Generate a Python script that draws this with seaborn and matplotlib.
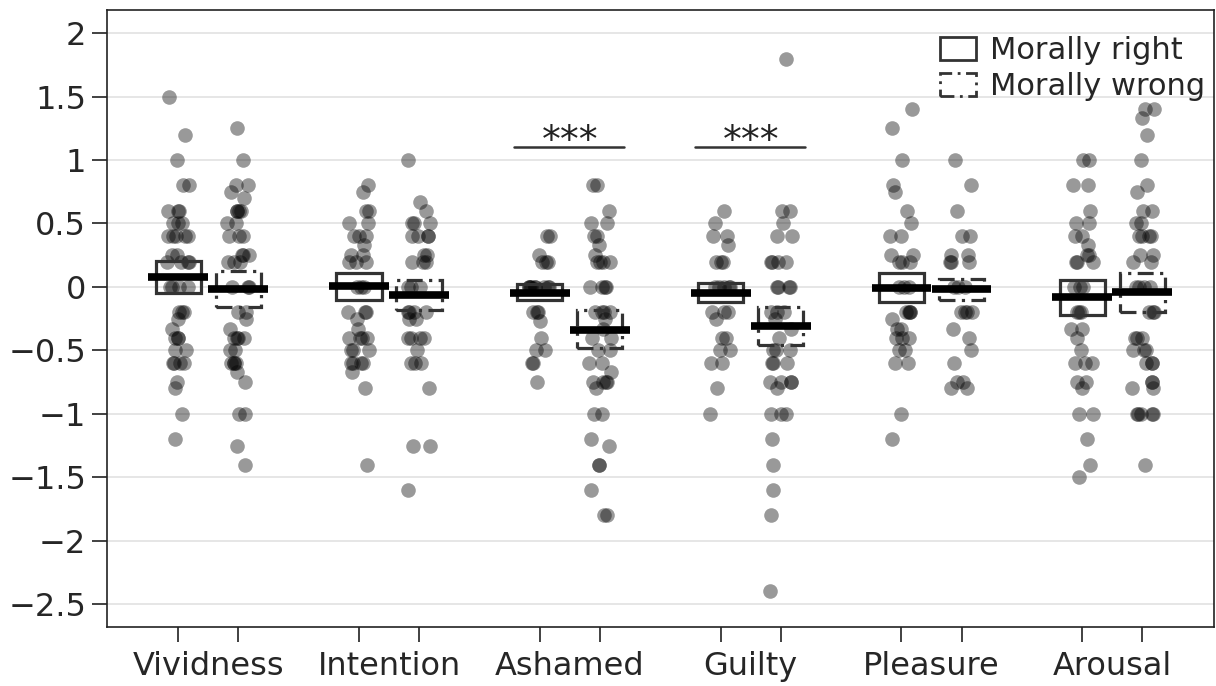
import numpy as np
import pandas as pd
import seaborn as sns
import matplotlib
matplotlib.use("Agg")
import matplotlib.pyplot as plt
from matplotlib.patches import Patch
from matplotlib.ticker import FuncFormatter

sns.set_style("white")
plt.rcParams["font.family"] = ["DejaVu Sans"]

categories = ["Vividness", "Intention", "Ashamed", "Guilty", "Pleasure", "Arousal"]
conditions = ["Morally right", "Morally wrong"]

# individual participant scores, per category and condition
scores = {
    ("Vividness", "Morally right"): [1.5, 1.2, 1.0, 0.8, 0.8, 0.6, 0.6, 0.6, 0.5, 0.5, 0.5, 0.4, 0.4, 0.4, 0.4, 0.4,
                                     0.25, 0.25, 0.2, 0.2, 0.2, 0.2, 0.0, 0.0, 0.0, 0.0, -0.2, -0.2, -0.2, -0.25,
                                     -0.33, -0.4, -0.4, -0.4, -0.5, -0.5, -0.6, -0.6, -0.6, -0.6, -0.75, -0.8, -1.0, -1.2],
    ("Vividness", "Morally wrong"): [1.25, 1.0, 0.8, 0.8, 0.75, 0.7, 0.6, 0.6, 0.6, 0.6, 0.5, 0.5, 0.4, 0.4, 0.4,
                                     0.25, 0.25, 0.25, 0.2, 0.2, 0.2, 0.0, 0.0, 0.0, -0.2, -0.2, -0.25, -0.33,
                                     -0.4, -0.4, -0.4, -0.4, -0.5, -0.5, -0.6, -0.6, -0.6, -0.6, -0.67, -0.75,
                                     -1.0, -1.0, -1.25, -1.4],
    ("Intention", "Morally right"): [0.8, 0.75, 0.6, 0.6, 0.5, 0.5, 0.4, 0.4, 0.4, 0.33, 0.25, 0.25, 0.2, 0.2, 0.2,
                                     0.0, 0.0, 0.0, -0.2, -0.2, -0.2, -0.25, -0.33, -0.4, -0.4, -0.4, -0.4, -0.5,
                                     -0.5, -0.5, -0.6, -0.6, -0.6, -0.6, -0.67, -0.8, -1.4],
    ("Intention", "Morally wrong"): [1.0, 0.67, 0.6, 0.5, 0.5, 0.5, 0.4, 0.4, 0.4, 0.4, 0.25, 0.25, 0.2, 0.2, 0.2,
                                     0.0, 0.0, 0.0, -0.2, -0.2, -0.2, -0.2, -0.25, -0.25, -0.4, -0.4, -0.4, -0.4,
                                     -0.5, -0.6, -0.6, -0.6, -0.8, -1.25, -1.25, -1.6],
    ("Ashamed", "Morally right"): [0.4, 0.4, 0.25, 0.2, 0.2, 0.2, 0.0, 0.0, 0.0, 0.0, 0.0, 0.0, 0.0, 0.0, 0.0,
                                   -0.2, -0.2, -0.2, -0.27, -0.4, -0.5, -0.5, -0.6, -0.6, -0.75],
    ("Ashamed", "Morally wrong"): [0.8, 0.8, 0.6, 0.5, 0.5, 0.4, 0.4, 0.33, 0.25, 0.2, 0.2, 0.2, 0.2, 0.0, 0.0,
                                   0.0, 0.0, -0.2, -0.2, -0.2, -0.2, -0.25, -0.33, -0.4, -0.4, -0.5, -0.5, -0.6,
                                   -0.6, -0.67, -0.75, -0.75, -0.75, -0.75, -0.8, -1.0, -1.0, -1.2, -1.25, -1.4,
                                   -1.4, -1.6, -1.8, -1.8],
    ("Guilty", "Morally right"): [0.6, 0.5, 0.4, 0.4, 0.33, 0.2, 0.2, 0.2, 0.0, 0.0, 0.0, 0.0, 0.0, -0.2, -0.2,
                                  -0.2, -0.25, -0.4, -0.4, -0.5, -0.5, -0.6, -0.6, -0.8, -1.0],
    ("Guilty", "Morally wrong"): [1.8, 0.6, 0.6, 0.5, 0.4, 0.4, 0.2, 0.2, 0.2, 0.2, 0.0, 0.0, 0.0, 0.0, -0.2,
                                  -0.2, -0.2, -0.25, -0.33, -0.4, -0.5, -0.5, -0.5, -0.6, -0.6, -0.6, -0.75,
                                  -0.75, -0.75, -0.75, -0.8, -1.0, -1.0, -1.0, -1.2, -1.4, -1.6, -1.8, -2.4],
    ("Pleasure", "Morally right"): [1.4, 1.25, 1.0, 0.8, 0.75, 0.6, 0.5, 0.4, 0.4, 0.25, 0.25, 0.2, 0.2, 0.2,
                                    0.0, 0.0, 0.0, -0.2, -0.2, -0.2, -0.2, -0.25, -0.33, -0.33, -0.4, -0.4, -0.4,
                                    -0.5, -0.5, -0.6, -0.6, -1.0, -1.2],
    ("Pleasure", "Morally wrong"): [1.0, 0.8, 0.6, 0.4, 0.4, 0.25, 0.25, 0.2, 0.2, 0.2, 0.0, 0.0, 0.0, -0.2, -0.2,
                                    -0.2, -0.2, -0.33, -0.4, -0.5, -0.6, -0.75, -0.75, -0.8, -0.8],
    ("Arousal", "Morally right"): [1.0, 1.0, 0.8, 0.8, 0.6, 0.5, 0.5, 0.4, 0.4, 0.33, 0.25, 0.25, 0.2, 0.2, 0.2,
                                   0.0, 0.0, 0.0, -0.2, -0.2, -0.2, -0.33, -0.33, -0.4, -0.5, -0.6, -0.6, -0.6,
                                   -0.75, -0.75, -0.8, -1.0, -1.0, -1.2, -1.4, -1.5],
    ("Arousal", "Morally wrong"): [1.4, 1.4, 1.33, 1.2, 1.0, 0.8, 0.75, 0.6, 0.6, 0.5, 0.5, 0.4, 0.4, 0.4, 0.4,
                                   0.25, 0.25, 0.2, 0.2, 0.0, 0.0, 0.0, 0.0, -0.2, -0.2, -0.2, -0.4, -0.4, -0.4,
                                   -0.5, -0.5, -0.5, -0.6, -0.6, -0.6, -0.75, -0.75, -0.8, -0.8, -1.0, -1.0,
                                   -1.0, -1.0, -1.0, -1.4],
}

# group means and interval bounds (box extents)
mean_right = [0.076, 0.005, -0.045, -0.05, -0.005, -0.08]
low_right = [-0.047, -0.10, -0.105, -0.12, -0.12, -0.218]
high_right = [0.208, 0.108, 0.026, 0.03, 0.11, 0.058]
mean_wrong = [-0.016, -0.063, -0.34, -0.31, -0.015, -0.037]
low_wrong = [-0.16, -0.18, -0.48, -0.46, -0.105, -0.20]
high_wrong = [0.124, 0.055, -0.18, -0.16, 0.065, 0.11]

significant = ["Ashamed", "Guilty"]
sig_label = "***"

offset = 0.166
cat_pos = {c: i for i, c in enumerate(categories)}
cond_shift = {"Morally right": -offset, "Morally wrong": offset}

rows = []
for (cat, cond), vals in scores.items():
    for v in vals:
        rows.append({"category": cat, "condition": cond, "value": v,
                     "pos": cat_pos[cat] + cond_shift[cond]})
df = pd.DataFrame(rows)

fig = plt.figure(figsize=(12.16, 6.86), dpi=100)
ax = fig.add_axes([0.088, 0.086, 0.910, 0.899])

np.random.seed(7)
sns.stripplot(data=df, x="pos", y="value", native_scale=True, orient="x",
              jitter=0.19, color="black", alpha=0.4, size=10.5, linewidth=0,
              ax=ax, zorder=2)

xs = np.arange(len(categories))
box_w = 0.25
mean_w = 0.33
edge = "#333333"
dashdot = (0, (5, 2, 1, 2))
ax.bar(xs - offset, np.array(high_right) - np.array(low_right), bottom=low_right,
       width=box_w, fill=False, edgecolor=edge, linewidth=2.3, zorder=3)
ax.bar(xs + offset, np.array(high_wrong) - np.array(low_wrong), bottom=low_wrong,
       width=box_w, fill=False, edgecolor=edge, linewidth=2.3,
       linestyle=dashdot, zorder=3)
ax.hlines(mean_right, xs - offset - mean_w / 2, xs - offset + mean_w / 2,
          color="black", linewidth=5.5, zorder=4)
ax.hlines(mean_wrong, xs + offset - mean_w / 2, xs + offset + mean_w / 2,
          color="black", linewidth=5.5, zorder=4)

# significance brackets
for cat in significant:
    c = cat_pos[cat]
    ax.plot([c - 0.31, c + 0.30], [1.1, 1.1], color="#333333", linewidth=1.8, zorder=4)
    ax.text(c, 1.06, sig_label, ha="center", va="baseline", fontsize=27, color="#222222")

ax.set_xlim(-0.56, len(categories) - 1 + 0.56)
ax.set_ylim(-2.68, 2.18)
yticks = [2, 1.5, 1, 0.5, 0, -0.5, -1, -1.5, -2, -2.5]
ax.set_yticks(yticks)
ax.yaxis.set_major_formatter(FuncFormatter(lambda v, p: f"{v:g}".replace("-", "\u2212")))
ax.yaxis.grid(True, color="#e4e4e4", linewidth=1.3, zorder=0)
ax.xaxis.grid(False)
ax.set_axisbelow(True)

ax.set_xticks(np.concatenate([xs - offset, xs + offset]))
ax.set_xticklabels([])
ax.set_xticks(xs, minor=True)
ax.set_xticklabels(categories, minor=True)
ax.tick_params(axis="x", which="major", bottom=True, direction="out", length=11,
               width=1.3, color="#333333")
ax.tick_params(axis="x", which="minor", bottom=True, length=0, pad=17, labelsize=23)
ax.tick_params(axis="y", left=True, direction="out", length=11, width=1.3,
               color="#333333", pad=4, labelsize=23)
ax.set_xlabel("")
ax.set_ylabel("")
for s in ax.spines.values():
    s.set_visible(True)
    s.set_color("#222222")
    s.set_linewidth(1.2)

handles = [Patch(facecolor="none", edgecolor=edge, linewidth=2.0, label=conditions[0]),
           Patch(facecolor="none", edgecolor=edge, linewidth=2.0,
                 linestyle=dashdot, label=conditions[1])]
ax.legend(handles=handles, loc="upper right", bbox_to_anchor=(0.998, 0.968),
          frameon=False, fontsize=22, handlelength=1.2, handleheight=0.78,
          handletextpad=0.45, labelspacing=0.22, borderaxespad=0.0, borderpad=0.2)

fig.savefig("out.png", dpi=100)
